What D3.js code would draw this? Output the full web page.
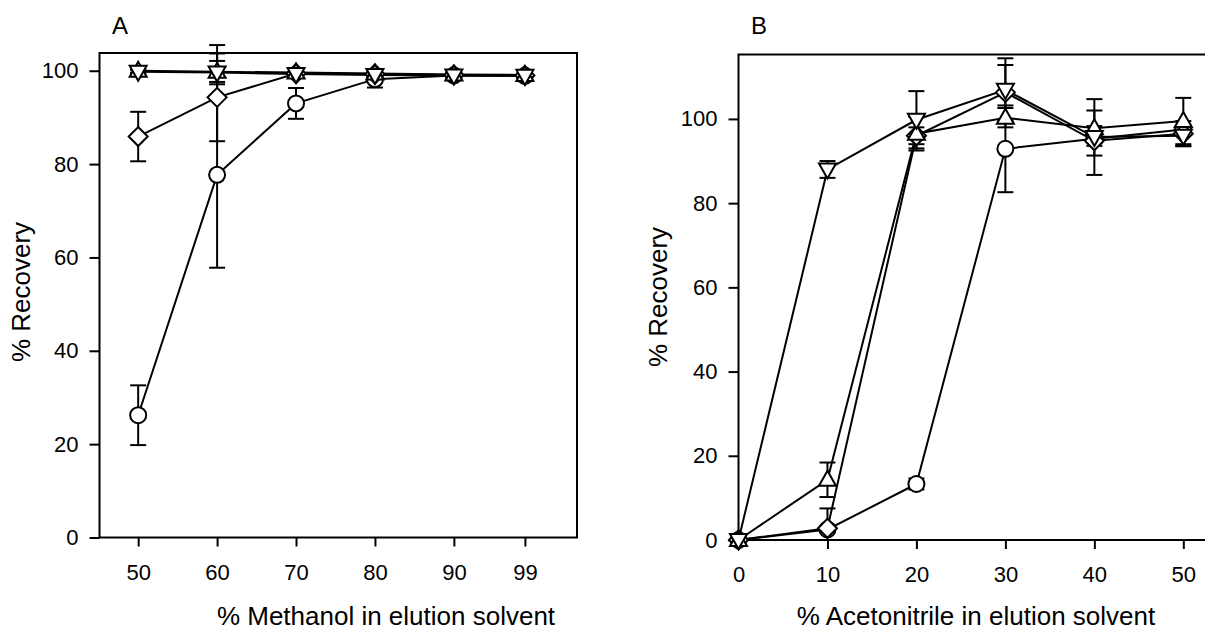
<!DOCTYPE html>
<html>
<head>
<meta charset="utf-8">
<script src="https://cdn.jsdelivr.net/npm/d3@7"></script>
<style>
  body { margin: 0; background: #fff; }
  svg { display: block; }
  text { font-family: "Liberation Sans", Arial, sans-serif; fill: #000; }
</style>
</head>
<body>
<svg id="chart" width="1205" height="631"></svg>
<script>
// panel A: % methanol
const xA = [50, 60, 70, 80, 90, 99];
const aCircle = [26.2, 77.7, 93.0, 98.2, 99.0, 98.9];
const aCircleErr = [6.4, 19.9, 3.3, 1.8, 0.6, 0.5];
const aDiamond = [85.9, 94.3, 99.4, 99.3, 99.1, 99.0];
const aDiamondErr = [5.3, 9.4, 0.8, 0.6, 0.5, 0.5];
const aUp = [100.0, 99.8, 99.6, 99.4, 99.2, 99.1];
const aUpErr = [0.4, 5.7, 0.6, 0.5, 0.4, 0.4];
const aDown = [99.8, 99.6, 99.3, 99.1, 99.0, 98.9];
const aDownErr = [0.4, 2.5, 0.5, 0.5, 0.4, 0.4];
const xTicksA = [50, 60, 70, 80, 90, 99];
const yTicksA = [0, 20, 40, 60, 80, 100];

// panel B: % acetonitrile
const xB = [0, 10, 20, 30, 40, 50];
const bCircle = [0, 2.5, 13.3, 92.9, 95.3, 97.5];
const bCircleErr = [0, 0, 1.3, 10.3, 1.0, 1.0];
const bDiamond = [0, 2.8, 96.0, 106.3, 94.8, 96.5];
const bDiamondErr = [0, 4.7, 2.0, 6.5, 3.5, 3.0];
const bUp = [0, 14.3, 96.5, 100.3, 97.8, 99.5];
const bUpErr = [0, 4.1, 4.0, 2.3, 4.2, 5.5];
const bDown = [0, 88.0, 99.8, 106.9, 95.7, 96.0];
const bDownErr = [0, 2.0, 6.8, 7.5, 9.0, 2.4];
const xTicksB = [0, 10, 20, 30, 40, 50];
const yTicksB = [0, 20, 40, 60, 80, 100];

const svg = d3.select("#chart");

// marker shapes, centred on 0,0
const shapes = {
  circle: "M8,0A8,8 0 1,1 -8,0A8,8 0 1,1 8,0Z",
  diamond: "M0,-9.5L9.5,0L0,9.5L-9.5,0Z",
  up: "M0,-9L8.5,6L-8.5,6Z",
  down: "M0,9L8.5,-6L-8.5,-6Z",
};

function drawPanel(p) {
  let x = d3.scaleLinear().domain(p.xdom).range([p.left, p.right]);
  let y = d3.scaleLinear().domain(p.ydom).range([p.bottom, p.top]);
  let g = svg.append("g");

  // axes
  let ya = g.append("g")
    .attr("transform", "translate(" + p.left + ",0)")
    .call(d3.axisLeft(y).tickValues(p.yticks).tickSize(10).tickPadding(11));
  let xa = g.append("g")
    .attr("transform", "translate(0," + p.bottom + ")")
    .call(d3.axisBottom(x).tickValues(p.xticks).tickSize(9));
  [ya, xa].forEach(a => {
    a.select(".domain").remove();
    a.selectAll("line").attr("stroke", "#000").attr("stroke-width", 2);
    a.selectAll("text").style("font-size", "22px").attr("fill", "#000");
  });
  xa.selectAll("text").attr("dy", null).attr("y", 42);

  g.append("rect")
    .attr("x", p.left).attr("y", p.top)
    .attr("width", p.right - p.left).attr("height", p.bottom - p.top)
    .attr("fill", "none").attr("stroke", "#000").attr("stroke-width", 2);

  let line = d3.line().x(d => x(d[0])).y(d => y(d[1]));
  let pts = p.series.map(s => p.xs.map((xv, i) => [xv, s.vals[i], s.err[i]]));

  // connecting lines
  pts.forEach(d => {
    g.append("path").datum(d).attr("d", line)
      .attr("fill", "none").attr("stroke", "#000").attr("stroke-width", 2);
  });

  // error bars (lower end stops at the axis)
  pts.forEach(d => {
    let eb = g.append("g").attr("stroke", "#000").attr("stroke-width", 2);
    d.filter(e => e[2] > 0).forEach(e => {
      let lo = e[1] - e[2];
      let cx = x(e[0]), y1 = y(e[1] + e[2]), y2 = y(Math.max(lo, p.ydom[0]));
      eb.append("line").attr("x1", cx).attr("x2", cx).attr("y1", y1).attr("y2", y2);
      eb.append("line").attr("x1", cx - 8).attr("x2", cx + 8).attr("y1", y1).attr("y2", y1);
      if (lo >= p.ydom[0])
        eb.append("line").attr("x1", cx - 8).attr("x2", cx + 8).attr("y1", y2).attr("y2", y2);
    });
  });

  // symbols
  p.series.forEach((s, k) => {
    g.append("g").selectAll("path")
      .data(pts[k]).enter().append("path")
      .attr("d", shapes[s.shape])
      .attr("transform", d => "translate(" + x(d[0]) + "," + y(d[1]) + ")")
      .attr("fill", "#fff").attr("stroke", "#000").attr("stroke-width", 2);
  });

  // titles
  g.append("text").attr("x", p.labelX).attr("y", 34)
    .attr("text-anchor", "middle").style("font-size", "24px").text(p.label);
  g.append("text").attr("x", p.xtitleX).attr("y", 625)
    .attr("text-anchor", "middle").style("font-size", "26px").text(p.xtitle);
  g.append("text")
    .attr("transform", "translate(" + p.ytitleX + "," + p.ytitleY + ") rotate(-90)")
    .attr("text-anchor", "middle").style("font-size", "26px").text("% Recovery");
}

drawPanel({
  left: 99.5, right: 577, top: 53, bottom: 537.5,
  xdom: [45.1, 105.6], ydom: [0, 103.8],
  xticks: xTicksA, yticks: yTicksA, xs: xA,
  series: [
    {shape: "circle", vals: aCircle, err: aCircleErr},
    {shape: "diamond", vals: aDiamond, err: aDiamondErr},
    {shape: "up", vals: aUp, err: aUpErr},
    {shape: "down", vals: aDown, err: aDownErr},
  ],
  label: "A", labelX: 120,
  xtitle: "% Methanol in elution solvent", xtitleX: 386,
  ytitleX: 30, ytitleY: 292,
});

drawPanel({
  left: 738.5, right: 1210, top: 54.5, bottom: 540,
  xdom: [0, 53], ydom: [0, 115.3],
  xticks: xTicksB, yticks: yTicksB, xs: xB,
  series: [
    {shape: "circle", vals: bCircle, err: bCircleErr},
    {shape: "diamond", vals: bDiamond, err: bDiamondErr},
    {shape: "up", vals: bUp, err: bUpErr},
    {shape: "down", vals: bDown, err: bDownErr},
  ],
  label: "B", labelX: 759,
  xtitle: "% Acetonitrile in elution solvent", xtitleX: 976,
  ytitleX: 667, ytitleY: 297,
});
</script>
</body>
</html>
